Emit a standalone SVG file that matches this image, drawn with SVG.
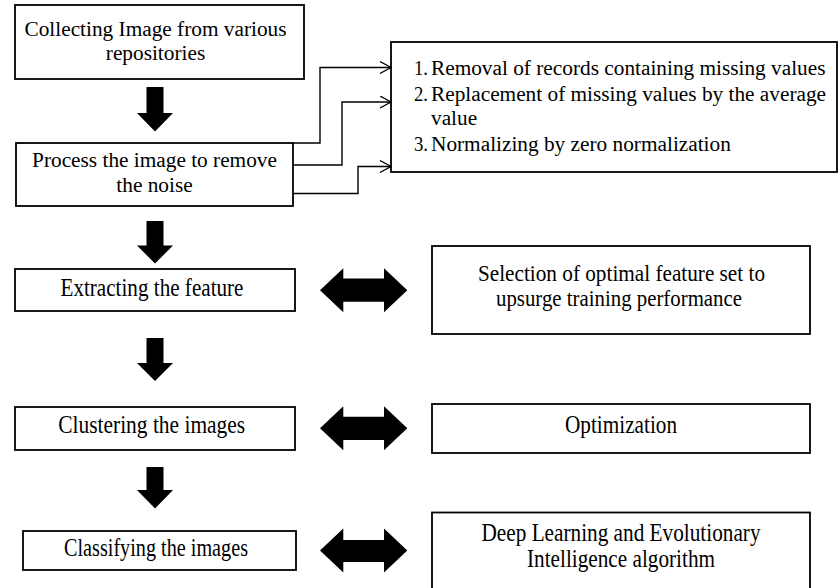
<svg xmlns="http://www.w3.org/2000/svg" width="839" height="588" viewBox="0 0 839 588">
  <style>
    .box { fill: #ffffff; stroke: #000000; stroke-width: 1.8; }
    .t { font-family: "Liberation Serif", "Times New Roman", Times, serif; fill: #000000; }
    .up { font-size: 21.3px; }
    .lo { font-size: 25px; }
    .lo2 { font-size: 23px; }
    .mid { text-anchor: middle; }
    .link { fill: none; stroke: #000000; stroke-width: 1.4; marker-end: url(#open); }
    .block { fill: #000000; stroke: none; }
  </style>
  <defs>
    <marker id="open" markerUnits="userSpaceOnUse" markerWidth="13" markerHeight="14" refX="11.5" refY="6.5" orient="auto">
      <path d="M0.5,0.5 L11.5,6.5 L0.5,12.5" fill="none" stroke="#000000" stroke-width="1.3"/>
    </marker>
  </defs>

  <!-- process nodes -->
  <g id="collect">
    <rect class="box" x="15" y="5" width="289" height="74"/>
    <text class="t up mid" x="155.5" y="36">Collecting Image from various</text>
    <text class="t up mid" x="155.5" y="60">repositories</text>
  </g>

  <g id="preprocess">
    <rect class="box" x="16" y="143" width="277" height="63"/>
    <text class="t up mid" x="154.5" y="167">Process the image to remove</text>
    <text class="t up mid" x="154.5" y="192">the noise</text>
  </g>

  <g id="steps">
    <rect class="box" x="391" y="42" width="446" height="130"/>
    <text class="t up" x="414" y="74.5" textLength="14" lengthAdjust="spacingAndGlyphs">1.</text>
    <text class="t up" x="431" y="74.5">Removal of records containing missing values</text>
    <text class="t up" x="414" y="101" textLength="14" lengthAdjust="spacingAndGlyphs">2.</text>
    <text class="t up" x="431" y="101">Replacement of missing values by the average</text>
    <text class="t up" x="431" y="125">value</text>
    <text class="t up" x="414" y="151" textLength="14" lengthAdjust="spacingAndGlyphs">3.</text>
    <text class="t up" x="431" y="151">Normalizing by zero normalization</text>
  </g>

  <g id="extract">
    <rect class="box" x="15" y="269" width="280" height="42"/>
    <text class="t lo mid" x="152" y="296" textLength="183" lengthAdjust="spacingAndGlyphs">Extracting the feature</text>
  </g>

  <g id="selection">
    <rect class="box" x="432" y="246" width="378" height="88"/>
    <text class="t lo2 mid" x="621.5" y="281" textLength="287" lengthAdjust="spacingAndGlyphs">Selection of optimal feature set to</text>
    <text class="t lo2 mid" x="619" y="306" textLength="246" lengthAdjust="spacingAndGlyphs">upsurge training performance</text>
  </g>

  <g id="cluster">
    <rect class="box" x="15" y="407" width="280" height="43"/>
    <text class="t lo mid" x="151.7" y="433" textLength="187" lengthAdjust="spacingAndGlyphs">Clustering the images</text>
  </g>

  <g id="optimize">
    <rect class="box" x="432" y="404" width="378" height="49"/>
    <text class="t lo mid" x="621" y="433" textLength="112" lengthAdjust="spacingAndGlyphs">Optimization</text>
  </g>

  <g id="classify">
    <rect class="box" x="23" y="531" width="273" height="39"/>
    <text class="t lo mid" x="156" y="556" textLength="184" lengthAdjust="spacingAndGlyphs">Classifying the images</text>
  </g>

  <g id="learning">
    <rect class="box" x="432" y="512.5" width="378" height="80"/>
    <text class="t lo mid" x="621" y="541" textLength="279" lengthAdjust="spacingAndGlyphs">Deep Learning and Evolutionary</text>
    <text class="t lo mid" x="621" y="567" textLength="188" lengthAdjust="spacingAndGlyphs">Intelligence algorithm</text>
  </g>

  <!-- connectors -->
  <g id="connectors">
    <!-- thin routed links from the preprocessing step to the step list -->
    <path class="link" d="M293,143 H320 V67.5 H391"/>
    <path class="link" d="M293,165 H342 V102 H391"/>
    <path class="link" d="M293,193.5 H358 V166.5 H391"/>

    <!-- block arrows down the main flow -->
    <polygon class="block" points="146.5,87 163.5,87 163.5,113 173,113 155,131.5 137,113 146.5,113"/>
    <polygon class="block" points="146.5,221 163.5,221 163.5,245.5 173,245.5 155,263.5 137,245.5 146.5,245.5"/>
    <polygon class="block" points="146.5,338 163.5,338 163.5,363 173,363 155,381 137,363 146.5,363"/>
    <polygon class="block" points="146.5,467 163.5,467 163.5,490 173,490 155,508.5 137,490 146.5,490"/>

    <!-- two-way block arrows to the side stages -->
    <polygon class="block" points="320,290.3 343.3,268.3 343.3,278.5 384,278.5 384,268.3 407.3,290.3 384,312.3 384,301.8 343.3,301.8 343.3,312.3"/>
    <polygon class="block" points="320,428.3 343.3,406.3 343.3,416.8 384,416.8 384,406.3 407.3,428.3 384,450.3 384,440 343.3,440 343.3,450.3"/>
    <polygon class="block" points="320,550.5 343.3,528.5 343.3,540 384,540 384,528.5 407.3,550.5 384,572.5 384,562 343.3,562 343.3,572.5"/>
  </g>
</svg>
